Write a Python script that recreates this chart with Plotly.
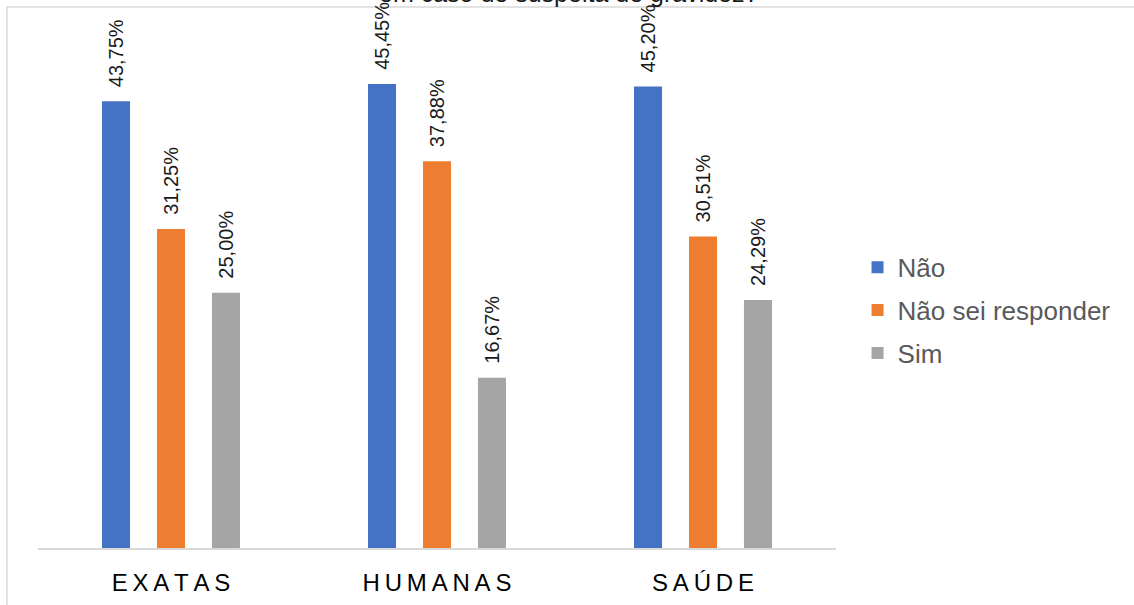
import plotly.graph_objects as go

# Survey answers by area of study (percent of respondents)
areas = ["EXATAS", "HUMANAS", "SAÚDE"]
series_names = ["Não", "Não sei responder", "Sim"]
nao = [43.75, 45.45, 45.20]
nao_sei = [31.25, 37.88, 30.51]
sim = [25.00, 16.67, 24.29]
colors = ["#4472C4", "#ED7D31", "#A5A5A5"]
title_text = "em caso de suspeita de gravidez?"

SP = "\u2009"  # letter spacing for the category labels
tick_text = [SP.join(list(a)) for a in areas]
PAD = "\u00a0\u00a0"  # gap between bar end and its rotated label


def fmt(v):
    return PAD + f"{v:.2f}".replace(".", ",") + "%"


fig = go.Figure()
for i, (name, vals) in enumerate(zip(series_names, [nao, nao_sei, sim])):
    fig.add_trace(go.Bar(
        x=areas, y=vals, name=name,
        marker=dict(color=colors[i], line=dict(width=0)),
        text=[fmt(v) for v in vals],
        textposition="outside", textangle=-90, constraintext="none",
        textfont=dict(family="Liberation Sans, Arial, sans-serif", size=20, color="#1a1a1a"),
        cliponaxis=False,
        legendgroup=name,
    ))

fig.update_layout(
    width=1134, height=605,
    margin=dict(l=38, r=298, t=8, b=57),
    paper_bgcolor="white", plot_bgcolor="white",
    barmode="group", bargap=0.38, bargroupgap=0.49,
    font=dict(family="Liberation Sans, Arial, sans-serif"),
    showlegend=True,
    legend=dict(
        x=1.027, y=0.44, xanchor="left", yanchor="middle",
        font=dict(size=26, color="#595959"),
        tracegroupgap=6, itemwidth=30,
    ),
    xaxis=dict(
        range=[-0.5, 2.5], tickmode="array", tickvals=areas, ticktext=tick_text,
        showline=True, linecolor="#D9D9D9", linewidth=2,
        showgrid=False, ticks="", zeroline=False, ticklabelstandoff=12,
        tickfont=dict(size=24, color="#000000"),
    ),
    yaxis=dict(range=[0, 52.89], visible=False, showgrid=False, zeroline=False),
    shapes=[dict(
        type="rect", xref="paper", yref="paper",
        x0=-31 / 798, x1=2.0, y0=-1.0, y1=1 + 1 / 540,
        line=dict(color="#D9D9D9", width=1.5), fillcolor="rgba(0,0,0,0)", layer="below",
    )],
    annotations=[dict(
        text=title_text, xref="paper", yref="paper",
        x=(568 - 38) / 798, y=1 - 1 / 540, xanchor="center", yanchor="bottom",
        showarrow=False, font=dict(size=25, color="#1a1a1a"),
    )],
)

fig.write_html("out.html")
